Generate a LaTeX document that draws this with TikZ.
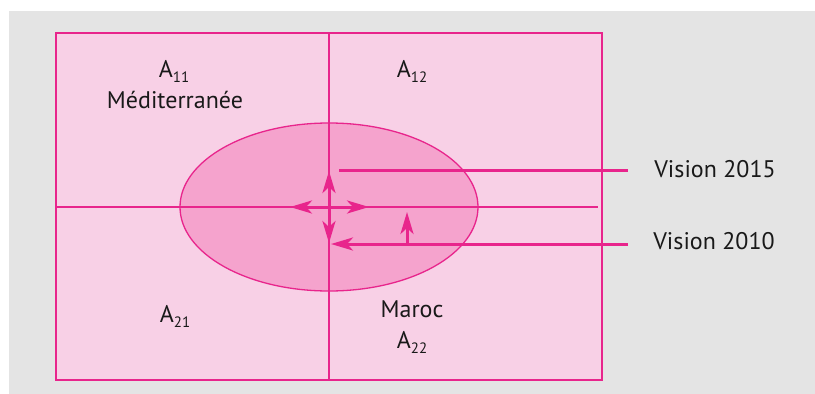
\documentclass[tikz,border=0pt]{standalone}
\usepackage{fontspec}
\setmainfont{PT Sans}
\usetikzlibrary{arrows.meta}
\definecolor{fondgris}{HTML}{E4E4E4}
\definecolor{rosepale}{HTML}{F8D0E6}
\definecolor{rosemoyen}{HTML}{F5A3CD}
\definecolor{vifrose}{HTML}{E8258C}
\newcommand{\indice}[1]{\raisebox{-5pt}{\fontsize{15}{15}\selectfont #1}}
\begin{document}
\begin{tikzpicture}[x=1pt,y=-1pt,
    trait/.style={draw=vifrose,line width=1.3pt},
    ligne/.style={draw=vifrose,line width=3pt},
    fleche/.style={ligne,-{Stealth[length=22pt,width=13pt,inset=6pt]}},
    etiq/.style={font=\fontsize{24}{26}\selectfont,text=black!90,anchor=base,inner sep=0pt}]
  \useasboundingbox (0,0) rectangle (815,394);
  \fill[fondgris] (9,11) rectangle (815,394);
  \begin{scope}
    \draw[trait,fill=rosepale] (56,33) rectangle (602,380);
    \draw[trait,fill=rosemoyen] (329,207) ellipse (149pt and 84pt);
    \coordinate (haut) at (329,33);
    \coordinate (bas) at (329,380);
    \coordinate (gauche) at (56,207);
    \coordinate (droite) at (598,207);
    \draw[trait] (haut) -- (bas);
    \draw[trait] (gauche) -- (droite);
  \end{scope}
  % labels des quadrants
  \node[etiq] (a11) at (174,77) {A\indice{11}};
  \node[etiq] (medit) at (175,108) {Méditerranée};
  \node[etiq] (a12) at (412,77) {A\indice{12}};
  \node[etiq] (a21) at (175,322) {A\indice{21}};
  \node[etiq] (maroc) at (412,317) {Maroc};
  \node[etiq] (a22) at (412,348) {A\indice{22}};
  % les deux visions
  \node[etiq] (v15) at (715,177) {Vision 2015};
  \node[etiq] (v10) at (714,249) {Vision 2010};
  \coordinate (d15) at (339,170);
  \coordinate (f15) at (628,170);
  \coordinate (d10) at (331,244);
  \coordinate (f10) at (628,244);
  \draw[ligne] (d15) -- (f15);
  \draw[fleche] (f10) -- (d10);
  % croix de fleches
  \coordinate (centre) at (329,207);
  \coordinate (nord) at (329,171);
  \coordinate (sud) at (329,243);
  \coordinate (ouest) at (290,207);
  \coordinate (est) at (369,207);
  \foreach \bout in {nord,sud,ouest,est}
    \draw[fleche] (centre) -- (\bout);
  \coordinate (pied) at (407,243);
  \coordinate (pointe) at (407,212);
  \draw[fleche] (pied) -- (pointe);
\end{tikzpicture}
\end{document}
